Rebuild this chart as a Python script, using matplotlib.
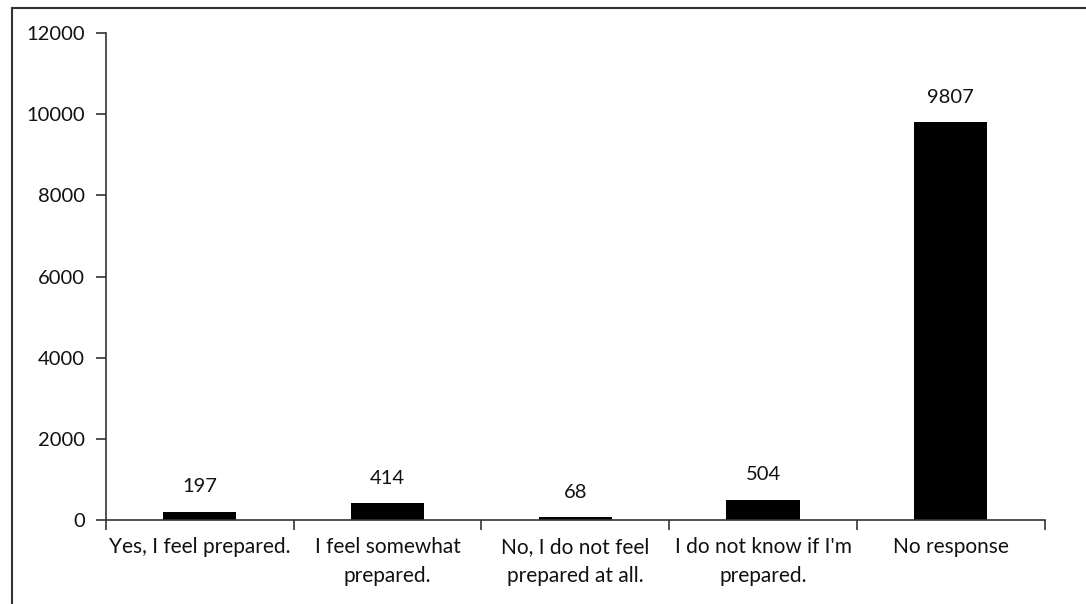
import numpy as np
import matplotlib.pyplot as plt
from matplotlib.lines import Line2D

plt.rcParams['font.family'] = ['Lato', 'DejaVu Sans']
plt.rcParams['text.color'] = '#111111'

categories = ['Yes, I feel prepared.', 'I feel somewhat\nprepared.',
              'No, I do not feel\nprepared at all.', "I do not know if I'm\nprepared.",
              'No response']
counts = [197, 414, 68, 504, 9807]
yticks = [0, 2000, 4000, 6000, 8000, 10000, 12000]

fig = plt.figure(figsize=(10.86, 6.04), dpi=100)
ax = fig.add_axes([0.0976, 0.139, 0.8644, 0.806])

x = np.arange(len(categories))
bars = ax.bar(x, counts, width=0.39, color='black')
ax.bar_label(bars, labels=[str(c) for c in counts], padding=12, fontsize=14.5, color='#111111')

ax.set_xlim(-0.5, len(categories) - 0.5)
ax.set_ylim(0, 12000)
ax.set_yticks(yticks)
ax.set_yticklabels([str(t) for t in yticks], fontsize=14.5, color='#111111')

# category labels centred, tick marks on the category boundaries
ax.set_xticks(x)
ax.set_xticklabels(categories, fontsize=15, color='#111111')
ax.tick_params(axis='x', which='major', length=0, pad=12)
ax.set_xticks(np.arange(-0.5, len(categories)), minor=True)
ax.tick_params(axis='x', which='minor', length=7, width=1.2, color='#333333')
ax.tick_params(axis='y', length=7, width=1.2, color='#333333', pad=8)
for lbl in ax.get_xticklabels():
    lbl.set_linespacing(1.55)

for s in ['top', 'right']:
    ax.spines[s].set_visible(False)
for s in ['left', 'bottom']:
    ax.spines[s].set_color('#333333')
    ax.spines[s].set_linewidth(1.2)

# outer frame of the scanned chart (top and left edges)
fig.add_artist(Line2D([12/1086, 1], [1 - 8/604, 1 - 8/604], color='#333333', lw=1.5))
fig.add_artist(Line2D([12/1086, 12/1086], [0, 1 - 8/604], color='#333333', lw=1.5))

fig.savefig('out.png', dpi=100)
